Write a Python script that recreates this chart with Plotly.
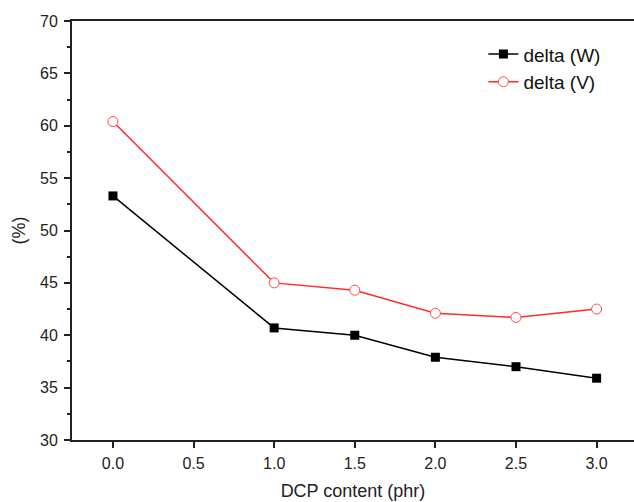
import plotly.graph_objects as go

dcp = [0.0, 1.0, 1.5, 2.0, 2.5, 3.0]
delta_w = [53.3, 40.7, 40.0, 37.9, 37.0, 35.9]
delta_v = [60.4, 45.0, 44.3, 42.1, 41.7, 42.5]
x_ticks = [0.0, 0.5, 1.0, 1.5, 2.0, 2.5, 3.0]
y_ticks = [30, 35, 40, 45, 50, 55, 60, 65, 70]

font = "Liberation Sans, Arial, sans-serif"
axcol = "#222222"

fig = go.Figure()
fig.add_trace(go.Scatter(
    x=dcp, y=delta_w, name="delta (W)", mode="lines+markers",
    line=dict(color="black", width=1.5),
    marker=dict(symbol="square", size=9, color="black"),
))
fig.add_trace(go.Scatter(
    x=dcp, y=delta_v, name="delta (V)", mode="lines+markers",
    line=dict(color="#ff2a2a", width=1.5),
    marker=dict(symbol="circle", size=10, color="white",
                line=dict(color="#ff4a4a", width=1)),
))

fig.update_layout(
    width=634, height=502,
    margin=dict(l=72, r=0, t=21, b=62),
    paper_bgcolor="white", plot_bgcolor="white",
    font=dict(family=font, size=16, color="#222222"),
    showlegend=True,
    legend=dict(x=0.732, y=0.966, xanchor="left", yanchor="top",
                bgcolor="rgba(0,0,0,0)", font=dict(size=19, color="#111111"),
                tracegroupgap=0, itemwidth=30),
    xaxis=dict(
        range=[-0.254, 3.232], tickvals=x_ticks,
        ticktext=[f"{v:.1f}" for v in x_ticks],
        showgrid=False, zeroline=False, automargin=False,
        showline=True, linecolor=axcol, linewidth=2, mirror=True,
        ticks="outside", ticklen=6, tickwidth=1.5, tickcolor=axcol,
        tickfont=dict(size=16), ticklabelstandoff=2,
        title=dict(text="DCP content (phr)", font=dict(size=18), standoff=13),
    ),
    yaxis=dict(
        range=[30, 70], tickvals=y_ticks,
        showgrid=False, zeroline=False, automargin=False,
        showline=True, linecolor=axcol, linewidth=2,
        ticks="outside", ticklen=6, tickwidth=1.5, tickcolor=axcol,
        minor=dict(dtick=2.5, tick0=30, ticks="outside", ticklen=3,
                   tickwidth=1.5, tickcolor=axcol, showgrid=False),
        tickfont=dict(size=16), ticklabelstandoff=3,
        title=dict(text="(%)", font=dict(size=18), standoff=10),
    ),
)

fig.write_html(
    "out.html",
    config={"displayModeBar": False},
    post_script="document.body.style.margin='0';document.body.style.overflow='hidden';",
)
